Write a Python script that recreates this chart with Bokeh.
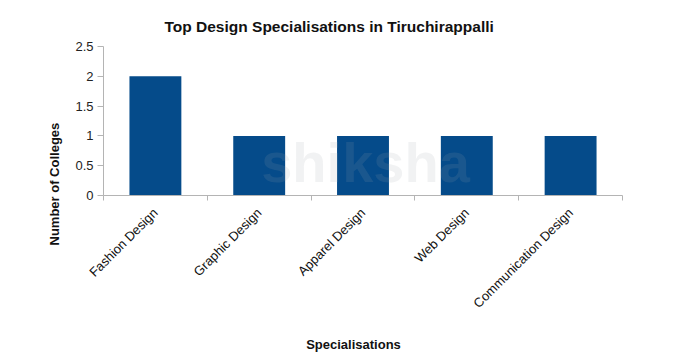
import math
from bokeh.plotting import figure
from bokeh.models import ColumnDataSource, Range1d, FixedTicker, NumeralTickFormatter, Label, Title
from bokeh.embed import file_html
from bokeh.resources import INLINE

categories = ["Fashion Design", "Graphic Design", "Apparel Design", "Web Design", "Communication Design"]
colleges = [2, 1, 1, 1, 1]
y_ticks = [0, 0.5, 1, 1.5, 2, 2.5]
title_text = "Top Design Specialisations in Tiruchirappalli"
x_label = "Specialisations"
y_label = "Number of Colleges"

FONT = "Liberation Sans"
n = len(categories)
centers = [i + 0.5 for i in range(n)]
bounds = list(range(n + 1))
src = ColumnDataSource(dict(x=centers, top=colleges, name=categories))

p = figure(width=673, height=355, output_backend="svg", toolbar_location=None,
           x_range=Range1d(0, n), y_range=Range1d(y_ticks[0], y_ticks[-1]),
           min_border_left=103, min_border_right=51, min_border_top=46, min_border_bottom=160)
p.outline_line_color = None
p.grid.visible = False
p.background_fill_color = "white"
p.border_fill_color = "white"

p.vbar(x="x", top="top", width=0.5, source=src, fill_color="#054b8a", line_color=None)

# watermark
p.add_layout(Label(x=262, y=2, x_units="screen", y_units="screen", text="shiksha",
                   text_font=FONT, text_font_size="56px", text_font_style="bold",
                   text_color="#9aa4ad", text_alpha=0.14, text_align="center", text_baseline="bottom"))

xa = p.xaxis[0]
xa.ticker = FixedTicker(ticks=centers, minor_ticks=bounds)
xa.major_label_overrides = {c: name for c, name in zip(centers, categories)}
xa.major_label_orientation = math.pi / 4
xa.major_tick_line_color = None
xa.major_tick_out = 0
xa.major_tick_in = 0
xa.minor_tick_line_color = "#b4b4b4"
xa.minor_tick_out = 5
xa.minor_tick_in = 0
xa.axis_line_color = "#b4b4b4"
xa.major_label_standoff = 10
xa.major_label_text_font = FONT
xa.major_label_text_font_size = "13px"
xa.major_label_text_color = "#111111"

ya = p.yaxis[0]
ya.ticker = FixedTicker(ticks=y_ticks, minor_ticks=[])
ya.formatter = NumeralTickFormatter(format="0.[0]")
ya.major_tick_line_color = "#b4b4b4"
ya.major_tick_out = 6
ya.major_tick_in = 0
ya.minor_tick_line_color = None
ya.axis_line_color = "#b4b4b4"
ya.major_label_standoff = 4
ya.major_label_text_font = FONT
ya.major_label_text_font_size = "13px"
ya.major_label_text_color = "#222222"

p.add_layout(Title(text=title_text, align="left", offset=61, standoff=24,
                   text_font=FONT, text_font_size="15.5px", text_font_style="bold",
                   text_color="#111111"), "above")
p.add_layout(Label(x=250, y=-10, x_units="screen", y_units="screen", text=x_label,
                   text_font=FONT, text_font_size="13px", text_font_style="bold",
                   text_color="#111111", text_align="center", text_baseline="middle"), "below")
p.add_layout(Title(text=y_label, align="left", offset=-50, standoff=22,
                   text_font=FONT, text_font_size="13px", text_font_style="bold",
                   text_color="#111111"), "left")

open("out.html", "w").write(file_html(p, INLINE))
